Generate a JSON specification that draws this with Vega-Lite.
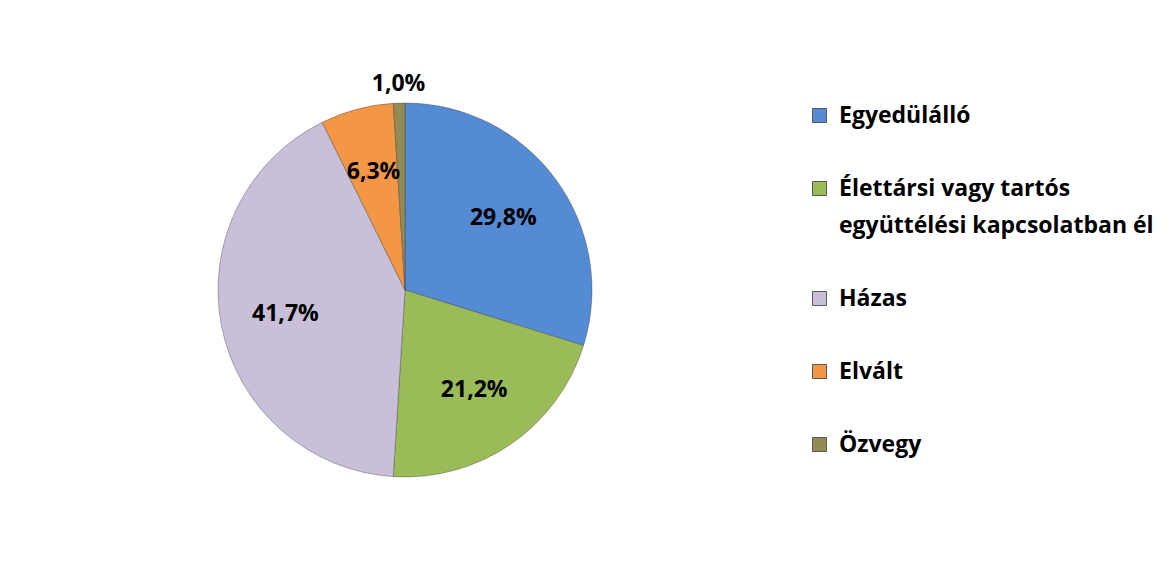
{
  "$schema": "https://vega.github.io/schema/vega-lite/v6.json",
  "width": 794,
  "height": 558,
  "autosize": {"type": "pad"},
  "padding": {"left": 8, "top": 11, "right": 0, "bottom": 0},
  "background": "white",
  "config": {
    "view": {"stroke": null},
    "locale": {"number": {"decimal": ",", "thousands": " ", "grouping": [3], "currency": ["", " Ft"]}}
  },
  "data": {
    "values": [
      {"cat": "Egyedülálló", "share": 0.298, "i": 1},
      {"cat": "Élettársi vagy tartós együttélési kapcsolatban él", "share": 0.212, "i": 2},
      {"cat": "Házas", "share": 0.417, "i": 3},
      {"cat": "Elvált", "share": 0.063, "i": 4},
      {"cat": "Özvegy", "share": 0.010, "i": 5}
    ]
  },
  "encoding": {
    "theta": {"field": "share", "type": "quantitative", "stack": true},
    "order": {"field": "i", "type": "quantitative"}
  },
  "layer": [
    {
      "mark": {"type": "arc", "outerRadius": 187, "stroke": "#303030", "strokeOpacity": 0.35, "strokeWidth": 1},
      "encoding": {
        "color": {
          "field": "cat",
          "type": "nominal",
          "scale": {
            "domain": ["Egyedülálló", "Élettársi vagy tartós együttélési kapcsolatban él", "Házas", "Elvált", "Özvegy"],
            "range": ["#558BD4", "#9BBB59", "#C9BFD9", "#F39747", "#948A54"]
          },
          "legend": {
            "orient": "none",
            "legendX": 800,
            "legendY": 93,
            "title": null,
            "symbolType": "square",
            "symbolSize": 196,
            "symbolStrokeWidth": 1,
            "symbolStrokeColor": "#5a5a5a",
            "labelFont": "Open Sans",
            "labelFontSize": 23,
            "labelFontWeight": "bold",
            "labelColor": "#000000",
            "labelLimit": 500,
            "labelOffset": 8,
            "rowPadding": 49,
            "labelExpr": "datum.label == 'Élettársi vagy tartós együttélési kapcsolatban él' ? ['Élettársi vagy tartós', 'együttélési kapcsolatban él'] : datum.label",
            "encode": {"labels": {"update": {"lineHeight": {"value": 37}}}}
          }
        }
      }
    },
    {
      "mark": {"type": "text", "radius": 122, "font": "Open Sans", "fontSize": 23, "fontWeight": "bold", "fill": "#000000"},
      "encoding": {
        "text": {"condition": {"test": "datum.cat !== 'Özvegy'", "field": "share", "type": "quantitative", "format": ".1%"}, "value": ""}
      }
    },
    {
      "mark": {"type": "text", "radius": 206, "font": "Open Sans", "fontSize": 23, "fontWeight": "bold", "fill": "#000000"},
      "encoding": {
        "text": {"condition": {"test": "datum.cat === 'Özvegy'", "field": "share", "type": "quantitative", "format": ".1%"}, "value": ""}
      }
    }
  ]
}
